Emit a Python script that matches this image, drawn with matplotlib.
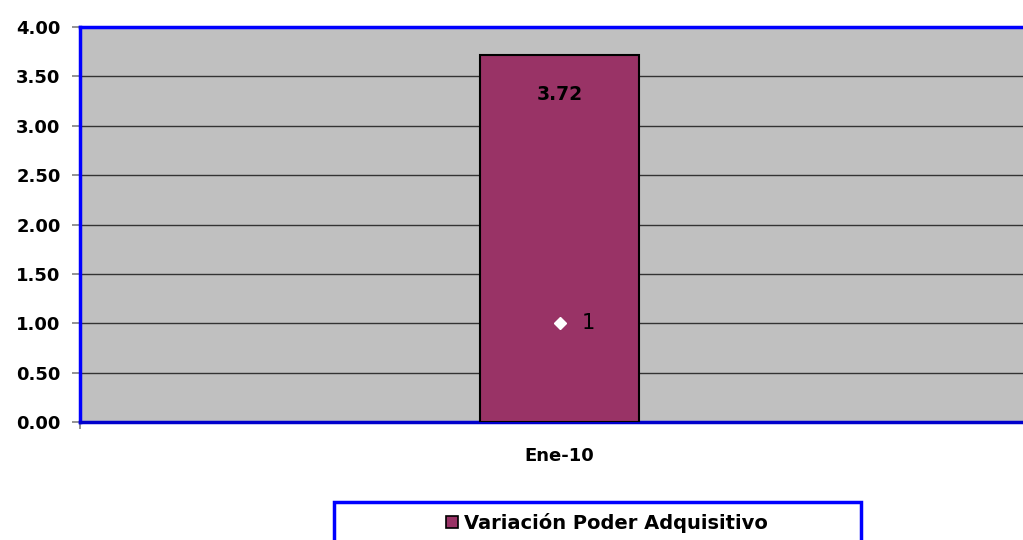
import matplotlib
matplotlib.use("Agg")
import matplotlib.pyplot as plt
from matplotlib.patches import Rectangle
from matplotlib.lines import Line2D

categories = ["Ene-10"]
values = [3.72]
point_values = [1]
series_name = "Variación Poder Adquisitivo"
yticks = [0.0, 0.5, 1.0, 1.5, 2.0, 2.5, 3.0, 3.5, 4.0]

plt.rcParams['font.family'] = ['DejaVu Sans']

W, H = 1023, 540
fig = plt.figure(figsize=(W / 100, H / 100), dpi=100)
ax = fig.add_axes([80 / W, 1 - 422 / H, 959 / W, 395 / H])
ax.set_facecolor('#C0C0C0')

x = list(range(len(categories)))
bars = ax.bar(x, values, width=0.166, color='#993366', edgecolor='black', linewidth=1.5, zorder=3)
for xi, v in zip(x, values):
    ax.annotate(f"{v:.2f}", (xi, v), xytext=(0, -29), textcoords='offset points', ha='center', va='center',
                fontsize=13.5, fontweight='bold', color='black', zorder=5)

ax.plot(x, point_values, linestyle='none', marker='D', markersize=6.5, color='white', markeredgecolor='white', zorder=4)
for xi, p in zip(x, point_values):
    ax.annotate(str(p), (xi, p), xytext=(16, 0), textcoords='offset points', ha='left', va='center', fontsize=15, color='black', zorder=5)

ax.set_xlim(-0.5, len(categories) - 0.5)
ax.set_ylim(0, 4)
ax.set_yticks(yticks)
ax.set_yticklabels([f"{t:.2f}" for t in yticks], fontsize=13, fontweight='bold')
ax.yaxis.grid(True, color='#333333', linewidth=1.0, zorder=1)
ax.set_axisbelow(True)

ax.set_xticks(x)
ax.set_xticklabels(categories, fontsize=13, fontweight='bold')
ax.tick_params(axis='x', which='major', length=0, pad=18)
ax.set_xticks([-0.5, len(categories) - 0.5], minor=True)
ax.tick_params(axis='x', which='minor', length=5, direction='out', color='#808080', width=1.2)
ax.tick_params(axis='y', which='major', length=6, direction='out', color='#808080', width=1.2, pad=8)

for s in ['left', 'top', 'bottom', 'right']:
    ax.spines[s].set_color('#0000FF')
    ax.spines[s].set_linewidth(2.5)
ax.spines['bottom'].set_color('#0000CC')

# legend box
fig.add_artist(Rectangle((334 / W, -0.1), 527 / W, 0.1 + (1 - 502 / H), transform=fig.transFigure,
                         facecolor='white', edgecolor='#0000FF', linewidth=2.5, clip_on=False))
handle = Line2D([], [], linestyle='none', marker='s', markersize=9, markerfacecolor='#993366', markeredgecolor='black', markeredgewidth=1.2)
fig.legend([handle], [series_name], loc='center', bbox_to_anchor=(605 / W, 1 - 523 / H), frameon=False,
           prop={'size': 14, 'weight': 'bold'}, handletextpad=0.15, handlelength=1.0, borderpad=0)

fig.savefig('out.png', dpi=100)
